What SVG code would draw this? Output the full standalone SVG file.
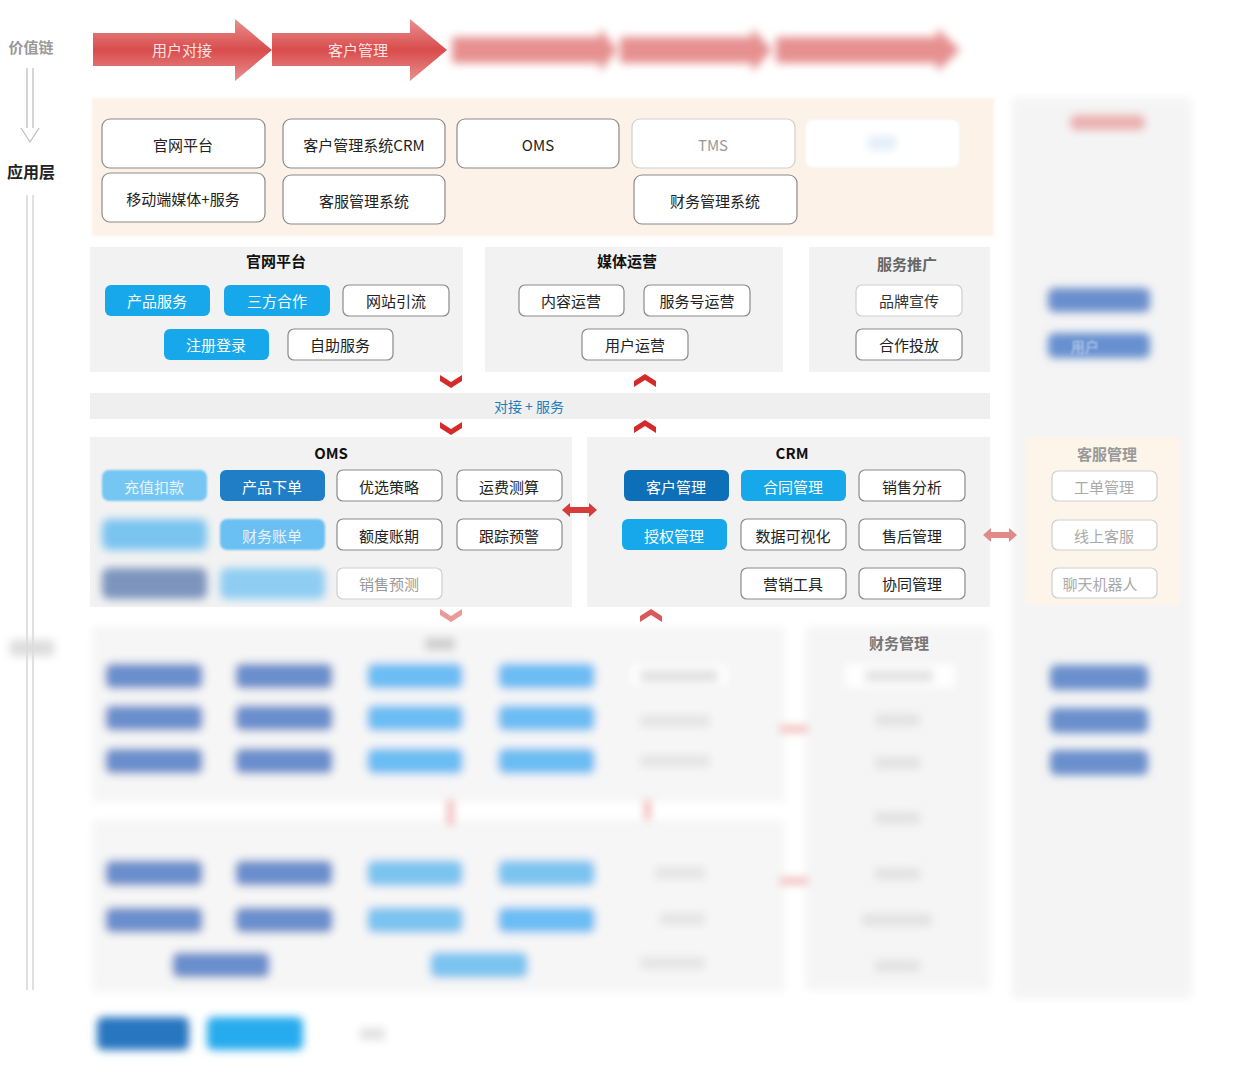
<svg xmlns="http://www.w3.org/2000/svg" width="1254" height="1080" viewBox="0 0 1254 1080">
<defs>
<style>
text{font-family:"Noto Sans CJK SC","Liberation Sans",sans-serif;text-anchor:middle;dominant-baseline:central}
.btn{font-size:15px;fill:#222}
.wbtn{fill:#fff;stroke:#8a8a8a;stroke-width:1.2}
.fbtn{fill:#fff;stroke:#cfcfcf;stroke-width:1.2}
.bt{font-size:15px;fill:#fff}
.ttl{font-size:15px;font-weight:bold;fill:#111}
.panel{fill:#f2f2f2}
.chev{fill:#d42a2a}
.dk{fill:#6b8fcc}
.lt{fill:#6cbdf3}
</style>
<filter id="blur" x="-20%" y="-50%" width="140%" height="200%"><feGaussianBlur stdDeviation="4"/></filter>
<filter id="blur2" x="-20%" y="-50%" width="140%" height="200%"><feGaussianBlur stdDeviation="1.3"/></filter>
<linearGradient id="arr" x1="0" y1="0" x2="0" y2="1">
<stop offset="0" stop-color="#e89090"/><stop offset="0.5" stop-color="#d94c4c"/><stop offset="1" stop-color="#e89090"/>
</linearGradient>
<path id="chevDown" d="M-11,-5 L0,2 L11,-5 L11,1 L0,8 L-11,1 Z"/>
<path id="chevUp" d="M-11,5 L0,-2 L11,5 L11,-1 L0,-8 L-11,-1 Z"/>
</defs>
<rect width="1254" height="1080" fill="#fff"/>

<!-- left axis -->
<g id="axis">
<text x="31" y="46" style="font-size:15px;font-weight:bold;fill:#999">价值链</text>
<path d="M27,68 V128 M33,68 V128" stroke="#bbb" stroke-width="1.2" fill="none"/>
<path d="M21,128 L30,142 L39,128" stroke="#bbb" stroke-width="1.2" fill="#fff"/>
<text x="31" y="171" style="font-size:16px;font-weight:bold;fill:#222">应用层</text>
<path d="M27,195 V990 M33,195 V990" stroke="#ccc" stroke-width="1.2" fill="none"/>
<rect x="10" y="640" width="44" height="16" rx="4" fill="#ddd" filter="url(#blur)"/>
</g>

<!-- value chain -->
<g id="valuechain">
<polygon points="93,33 235,33 235,19 272,50 235,81 235,66 93,66" fill="url(#arr)"/>
<text x="182" y="49" style="font-size:15px;fill:#fbe3e3">用户对接</text>
<polygon points="272,33 410,33 410,19 447,50 410,81 410,66 272,66" fill="url(#arr)"/>
<text x="358" y="49" style="font-size:15px;fill:#fbe3e3">客户管理</text>
<g filter="url(#blur)" opacity="0.8">
<polygon points="452,37 600,37 600,28 617,50 600,72 600,63 452,63" fill="#e07575"/>
<polygon points="620,37 752,37 752,28 772,50 752,72 752,63 620,63" fill="#e07575"/>
<polygon points="776,37 937,37 937,28 960,50 937,72 937,63 776,63" fill="#e07575"/>
</g>
</g>

<!-- right blurred column -->
<g id="rightcol">
<rect x="1012" y="98" width="180" height="900" fill="#f4f4f4" filter="url(#blur)"/>
<rect x="1070" y="115" width="75" height="15" rx="6" fill="#eab0b0" filter="url(#blur)"/>
<rect x="1048" y="288" width="102" height="24" rx="6" class="dk" filter="url(#blur)"/>
<rect x="1048" y="333" width="102" height="25" rx="6" fill="#6690d0" filter="url(#blur)"/>
<text x="1085" y="346" style="font-size:14px;fill:#c8d8f0" filter="url(#blur2)">用户</text>
<rect x="1050" y="665" width="98" height="25" rx="6" class="dk" filter="url(#blur)"/>
<rect x="1050" y="708" width="98" height="25" rx="6" class="dk" filter="url(#blur)"/>
<rect x="1050" y="750" width="98" height="25" rx="6" class="dk" filter="url(#blur)"/>
</g>

<!-- application layer -->
<g id="applayer">
<rect x="92" y="98" width="902" height="138" fill="#fdf2e8" filter="url(#blur2)"/>
<g id="app-guanwang"><rect class="wbtn" x="102" y="119" width="163" height="49" rx="8"/><text class="btn" x="183" y="144">官网平台</text></g>
<g id="app-mobile"><rect class="wbtn" x="102" y="173" width="163" height="49" rx="8"/><text class="btn" x="183" y="198">移动端媒体+服务</text></g>
<g id="app-crm"><rect class="wbtn" x="283" y="119" width="162" height="49" rx="8"/><text class="btn" x="364" y="144">客户管理系统CRM</text></g>
<g id="app-kefu"><rect class="wbtn" x="283" y="175" width="162" height="49" rx="8"/><text class="btn" x="364" y="200">客服管理系统</text></g>
<g id="app-oms"><rect class="wbtn" x="457" y="119" width="162" height="49" rx="8"/><text class="btn" x="538" y="144">OMS</text></g>
<g id="app-tms"><rect class="fbtn" x="632" y="119" width="163" height="49" rx="8"/><text x="713" y="144" style="font-size:15px;fill:#999">TMS</text></g>
<g id="app-blur"><rect x="805" y="119" width="155" height="49" rx="8" fill="#fff" stroke="#eee" filter="url(#blur2)"/><rect x="868" y="136" width="28" height="14" fill="#e3eef8" filter="url(#blur)"/></g>
<g id="app-finance"><rect class="wbtn" x="634" y="175" width="163" height="49" rx="8"/><text class="btn" x="715" y="200">财务管理系统</text></g>
</g>

<!-- 官网平台 -->
<g id="p-guanwang">
<rect class="panel" x="90" y="247" width="373" height="125"/>
<text class="ttl" x="276" y="260">官网平台</text>
<g id="n-chanpin"><rect x="105" y="285" width="105" height="31" rx="6" fill="#16a8ea"/><text class="bt" x="157" y="300">产品服务</text></g>
<g id="n-sanfang"><rect x="224" y="285" width="106" height="31" rx="6" fill="#16a8ea"/><text class="bt" x="277" y="300">三方合作</text></g>
<g id="n-wangzhan"><rect class="wbtn" x="343" y="285" width="106" height="31" rx="6"/><text class="btn" x="396" y="300">网站引流</text></g>
<g id="n-zhuce"><rect x="164" y="329" width="105" height="31" rx="6" fill="#16a8ea"/><text class="bt" x="216" y="344">注册登录</text></g>
<g id="n-zizhu"><rect class="wbtn" x="288" y="329" width="105" height="31" rx="6"/><text class="btn" x="340" y="344">自助服务</text></g>
</g>

<!-- 媒体运营 -->
<g id="p-meiti">
<rect class="panel" x="485" y="247" width="298" height="125"/>
<text class="ttl" x="627" y="260">媒体运营</text>
<g id="n-neirong"><rect class="wbtn" x="519" y="285" width="105" height="31" rx="6"/><text class="btn" x="571" y="300">内容运营</text></g>
<g id="n-fuwuhao"><rect class="wbtn" x="644" y="285" width="106" height="31" rx="6"/><text class="btn" x="697" y="300">服务号运营</text></g>
<g id="n-yonghu"><rect class="wbtn" x="582" y="329" width="106" height="31" rx="6"/><text class="btn" x="635" y="344">用户运营</text></g>
</g>

<!-- 服务推广 -->
<g id="p-tuiguang">
<rect class="panel" x="809" y="247" width="181" height="125"/>
<text x="907" y="263" style="font-size:15px;font-weight:bold;fill:#666">服务推广</text>
<g id="n-pinpai"><rect class="fbtn" x="856" y="285" width="106" height="31" rx="6" stroke="#999"/><text x="909" y="300" style="font-size:15px;fill:#333">品牌宣传</text></g>
<g id="n-hezuo"><rect class="wbtn" x="856" y="329" width="106" height="31" rx="6"/><text class="btn" x="909" y="344">合作投放</text></g>
</g>

<!-- 对接+服务 -->
<g id="p-duijie">
<rect x="90" y="393" width="900" height="26" fill="#efefef"/>
<text x="529" y="406" style="font-size:14px;fill:#1c7fb8">对接 + 服务</text>
</g>

<!-- OMS -->
<g id="p-oms">
<rect class="panel" x="90" y="437" width="482" height="170"/>
<text class="ttl" x="331" y="452">OMS</text>
<g id="n-chongzhi"><rect x="102" y="470" width="105" height="31" rx="7" fill="#74c6f3" filter="url(#blur2)"/><text x="154" y="486" style="font-size:15px;fill:#e8f5fd">充值扣款</text></g>
<g id="n-xiadan"><rect x="220" y="470" width="105" height="31" rx="6" fill="#1f7ec6"/><text class="bt" x="272" y="486">产品下单</text></g>
<g id="n-youxuan"><rect class="wbtn" x="337" y="470" width="105" height="31" rx="6"/><text class="btn" x="389" y="486">优选策略</text></g>
<g id="n-yunfei"><rect class="wbtn" x="457" y="470" width="105" height="31" rx="6"/><text class="btn" x="509" y="486">运费测算</text></g>
<g id="n-blur1"><rect x="102" y="519" width="105" height="31" rx="7" fill="#7ac4f0" filter="url(#blur)"/></g>
<g id="n-zhangdan"><rect x="220" y="519" width="105" height="31" rx="7" fill="#6ac0f2" filter="url(#blur2)"/><text x="272" y="535" style="font-size:15px;fill:#e4f3fc">财务账单</text></g>
<g id="n-edu"><rect class="wbtn" x="337" y="519" width="105" height="31" rx="6"/><text class="btn" x="389" y="535">额度账期</text></g>
<g id="n-genzong"><rect class="wbtn" x="457" y="519" width="105" height="31" rx="6"/><text class="btn" x="509" y="535">跟踪预警</text></g>
<g id="n-blur2"><rect x="102" y="568" width="105" height="31" rx="7" fill="#7d95bd" filter="url(#blur)"/></g>
<g id="n-blur3"><rect x="220" y="568" width="105" height="31" rx="7" fill="#8fcdf3" filter="url(#blur)"/></g>
<g id="n-yuce"><rect class="fbtn" x="337" y="568" width="105" height="31" rx="6"/><text x="389" y="583" style="font-size:15px;fill:#999">销售预测</text></g>
</g>

<!-- CRM -->
<g id="p-crm">
<rect class="panel" x="587" y="437" width="403" height="170"/>
<text class="ttl" x="792" y="452">CRM</text>
<g id="n-kehu"><rect x="624" y="470" width="105" height="31" rx="6" fill="#0e6fb9"/><text class="bt" x="676" y="486">客户管理</text></g>
<g id="n-hetong"><rect x="741" y="470" width="105" height="31" rx="6" fill="#16a8ea"/><text class="bt" x="793" y="486">合同管理</text></g>
<g id="n-xiaoshou"><rect class="wbtn" x="859" y="470" width="106" height="31" rx="6"/><text class="btn" x="912" y="486">销售分析</text></g>
<g id="n-shouquan"><rect x="622" y="519" width="105" height="31" rx="6" fill="#16a8ea"/><text class="bt" x="674" y="535">授权管理</text></g>
<g id="n-shuju"><rect class="wbtn" x="741" y="519" width="105" height="31" rx="6"/><text class="btn" x="793" y="535">数据可视化</text></g>
<g id="n-shouhou"><rect class="wbtn" x="859" y="519" width="106" height="31" rx="6"/><text class="btn" x="912" y="535">售后管理</text></g>
<g id="n-yingxiao"><rect class="wbtn" x="741" y="568" width="105" height="31" rx="6"/><text class="btn" x="793" y="583">营销工具</text></g>
<g id="n-xietong"><rect class="wbtn" x="859" y="568" width="106" height="31" rx="6"/><text class="btn" x="912" y="583">协同管理</text></g>
</g>

<!-- 客服管理 -->
<g id="p-kefu">
<rect x="1025" y="437" width="155" height="168" fill="#fdf4ea" filter="url(#blur2)"/>
<text x="1107" y="453" style="font-size:15px;font-weight:bold;fill:#999">客服管理</text>
<g id="n-gongdan"><rect class="fbtn" x="1052" y="471" width="105" height="30" rx="6"/><text x="1104" y="486" style="font-size:15px;fill:#aaa">工单管理</text></g>
<g id="n-xianshang"><rect class="fbtn" x="1052" y="520" width="105" height="30" rx="6"/><text x="1104" y="535" style="font-size:15px;fill:#aaa">线上客服</text></g>
<g id="n-liaotian"><rect class="fbtn" x="1052" y="568" width="105" height="30" rx="6"/><text x="1100" y="583" style="font-size:15px;fill:#aaa">聊天机器人</text></g>
</g>

<!-- lower blurred area -->
<g id="p-lower1" filter="url(#blur)">
<rect x="92" y="627" width="693" height="175" fill="#f6f6f6"/>
<rect x="425" y="638" width="30" height="12" fill="#ccc"/>
<rect x="105" y="663" width="98" height="26" rx="7" class="dk"/>
<rect x="235" y="663" width="98" height="26" rx="7" class="dk"/>
<rect x="367" y="663" width="96" height="26" rx="7" class="lt"/>
<rect x="498" y="663" width="97" height="26" rx="7" class="lt"/>
<rect x="105" y="705" width="98" height="26" rx="7" class="dk"/>
<rect x="235" y="705" width="98" height="26" rx="7" class="dk"/>
<rect x="367" y="705" width="96" height="26" rx="7" class="lt"/>
<rect x="498" y="705" width="97" height="26" rx="7" class="lt"/>
<rect x="105" y="748" width="98" height="26" rx="7" class="dk"/>
<rect x="235" y="748" width="98" height="26" rx="7" class="dk"/>
<rect x="367" y="748" width="96" height="26" rx="7" class="lt"/>
<rect x="498" y="748" width="97" height="26" rx="7" class="lt"/>
<rect x="628" y="662" width="102" height="26" rx="6" fill="#fff" stroke="#ddd"/>
<rect x="640" y="670" width="78" height="12" fill="#e0e0e0"/>
<rect x="640" y="715" width="70" height="12" fill="#e4e4e4"/>
<rect x="640" y="755" width="70" height="12" fill="#e4e4e4"/>
</g>
<g id="p-lower2" filter="url(#blur)">
<rect x="92" y="820" width="693" height="172" fill="#f6f6f6"/>
<rect x="105" y="860" width="98" height="26" rx="7" class="dk"/>
<rect x="235" y="860" width="98" height="26" rx="7" class="dk"/>
<rect x="367" y="860" width="96" height="26" rx="7" fill="#7cc4f0"/>
<rect x="498" y="860" width="97" height="26" rx="7" fill="#7cc4f0"/>
<rect x="105" y="907" width="98" height="26" rx="7" class="dk"/>
<rect x="235" y="907" width="98" height="26" rx="7" class="dk"/>
<rect x="367" y="907" width="96" height="26" rx="7" fill="#7cc4f0"/>
<rect x="498" y="907" width="97" height="26" rx="7" class="lt"/>
<rect x="172" y="952" width="98" height="26" rx="7" class="dk"/>
<rect x="430" y="952" width="98" height="26" rx="7" fill="#7cc4f0"/>
<rect x="655" y="867" width="50" height="12" fill="#e4e4e4"/>
<rect x="660" y="913" width="45" height="12" fill="#e4e4e4"/>
<rect x="640" y="957" width="65" height="12" fill="#e4e4e4"/>
</g>
<g id="p-finance">
<rect x="805" y="627" width="185" height="363" fill="#f5f5f5" filter="url(#blur)"/>
<text x="899" y="642" style="font-size:15px;font-weight:bold;fill:#777">财务管理</text>
<g filter="url(#blur)">
<rect x="843" y="662" width="114" height="28" rx="6" fill="#fff" stroke="#ddd"/>
<rect x="865" y="670" width="68" height="12" fill="#e2e2e2"/>
<rect x="875" y="714" width="45" height="12" fill="#e2e2e2"/>
<rect x="875" y="757" width="45" height="12" fill="#e2e2e2"/>
<rect x="875" y="812" width="45" height="12" fill="#e2e2e2"/>
<rect x="875" y="868" width="45" height="12" fill="#e2e2e2"/>
<rect x="862" y="914" width="70" height="12" fill="#e2e2e2"/>
<rect x="875" y="960" width="45" height="12" fill="#e2e2e2"/>
</g>
</g>
<g id="p-bottom" filter="url(#blur)">
<rect x="97" y="1017" width="92" height="33" rx="6" fill="#2776c0"/>
<rect x="207" y="1017" width="96" height="33" rx="6" fill="#28abee"/>
<rect x="360" y="1028" width="25" height="12" fill="#e2e2e2"/>
</g>

<!-- connectors -->
<g id="connectors">
<use href="#chevDown" x="451" y="380" class="chev"/>
<use href="#chevDown" x="451" y="427" class="chev"/>
<use href="#chevUp" x="645" y="382" class="chev"/>
<use href="#chevUp" x="645" y="428" class="chev"/>
<use href="#chevDown" x="451" y="614" fill="#eb9a9a"/>
<use href="#chevUp" x="651" y="617" fill="#d85a5a"/>
<polygon points="562,510 570,503 570,507 589,507 589,503 597,510 589,517 589,513 570,513 570,517" fill="#d83b3b"/>
<polygon points="983,535 991,528 991,532 1009,532 1009,528 1017,535 1009,542 1009,538 991,538 991,542" fill="#e08a8a"/>
<g filter="url(#blur)">
<rect x="780" y="726" width="28" height="6" fill="#f0b0b0"/>
<rect x="780" y="878" width="28" height="6" fill="#f0b0b0"/>
<rect x="448" y="800" width="5" height="25" fill="#f0a0a0"/>
<rect x="645" y="800" width="5" height="20" fill="#f0a0a0"/>
</g>
</g>
</svg>
